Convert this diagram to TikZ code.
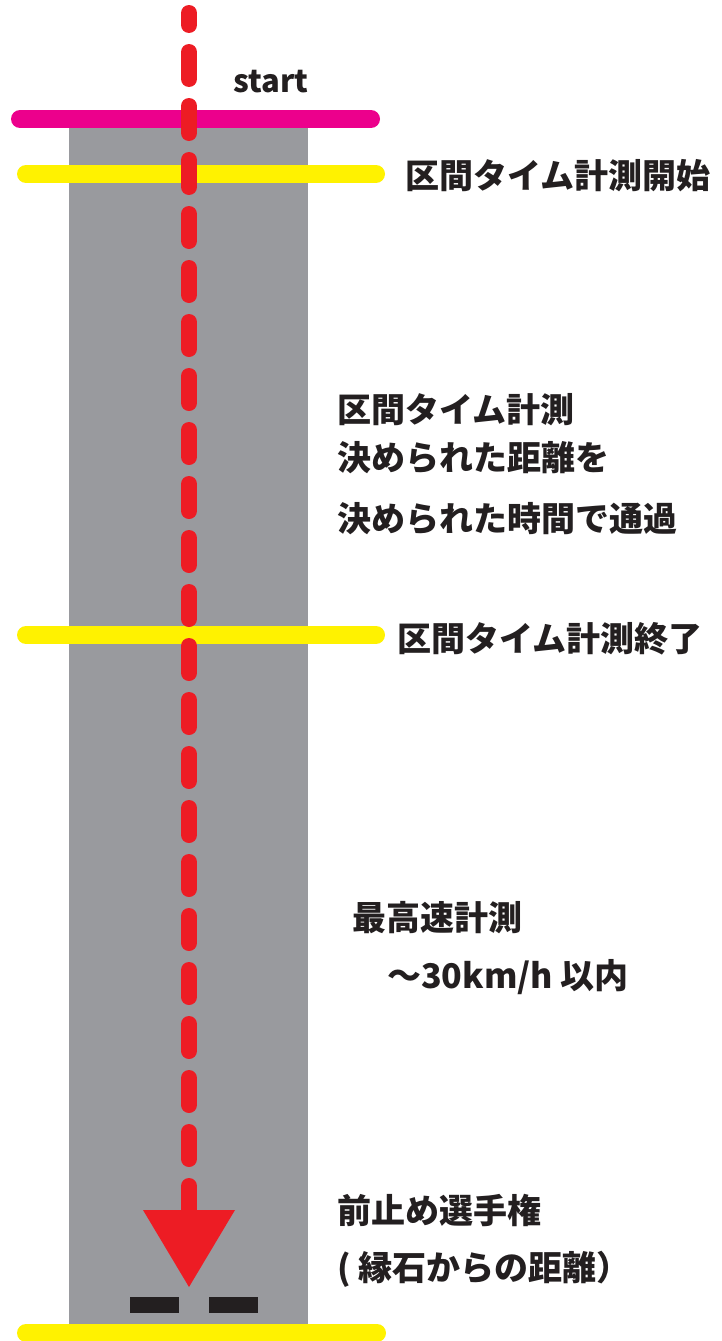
\documentclass[tikz,border=0pt]{standalone}
\usepackage{fontspec}
\setmainfont{Noto Sans CJK JP}
\usepackage{tikz}
\usetikzlibrary{calc}

\definecolor{roadgray}{HTML}{999A9E}
\definecolor{startmagenta}{HTML}{EC008C}
\definecolor{gateyellow}{HTML}{FFF200}
\definecolor{runred}{HTML}{ED1C24}
\definecolor{inkdark}{HTML}{231F20}

\begin{document}
\begin{tikzpicture}[x=1pt, y=-1pt,
    gate/.style={line width=18pt, line cap=round},
    infotext/.style={anchor=west, inner sep=0pt, text=inkdark,
      font=\fontsize{34}{40}\selectfont\bfseries}]
  \useasboundingbox (0,0) rectangle (722,1341);

  % road
  \fill[roadgray] (69,127) rectangle (308,1333);

  % start line and timing gates
  \draw[gate, startmagenta] (20,119) -- (371,119);
  \draw[gate, gateyellow] (26,174) -- (376,174);
  \draw[gate, gateyellow] (26,635) -- (376,635);
  \draw[gate, gateyellow] (26,1333) -- (377,1333);

  % run path
  \coordinate (runtop) at (189,13);
  \coordinate (runend) at (189,1213);
  \draw[runred, line width=16pt, line cap=round,
        dash pattern=on 27pt off 27pt, dash phase=15pt] (runtop) -- (runend);
  \fill[runred] (143,1210) -- (235,1210) -- (189,1287) -- cycle;

  % stop marks
  \fill[inkdark] (130,1297) rectangle (179,1313);
  \fill[inkdark] (209,1297) rectangle (258,1313);

  % labels
  \node[infotext, font=\fontsize{31}{36}\selectfont\bfseries] (startlbl) at (233,82) {start};
  \node[infotext] (gateopen) at (405,176) {区間タイム計測開始};
  \node[infotext] (sectiona) at (337,410) {区間タイム計測};
  \node[infotext] (sectionb) at (337,458) {決められた距離を};
  \node[infotext] (sectionc) at (337,519) {決められた時間で通過};
  \node[infotext] (gateclose) at (397,639) {区間タイム計測終了};
  \node[infotext] (speeda) at (352,918) {最高速計測};
  \node[infotext] (speedb) at (387,977) {～30km/h 以内};
  \node[infotext] (stopa) at (337,1210) {前止め選手権};
  \node[infotext] (stopb) at (337,1269) {( 縁石からの距離）};
\end{tikzpicture}
\end{document}
